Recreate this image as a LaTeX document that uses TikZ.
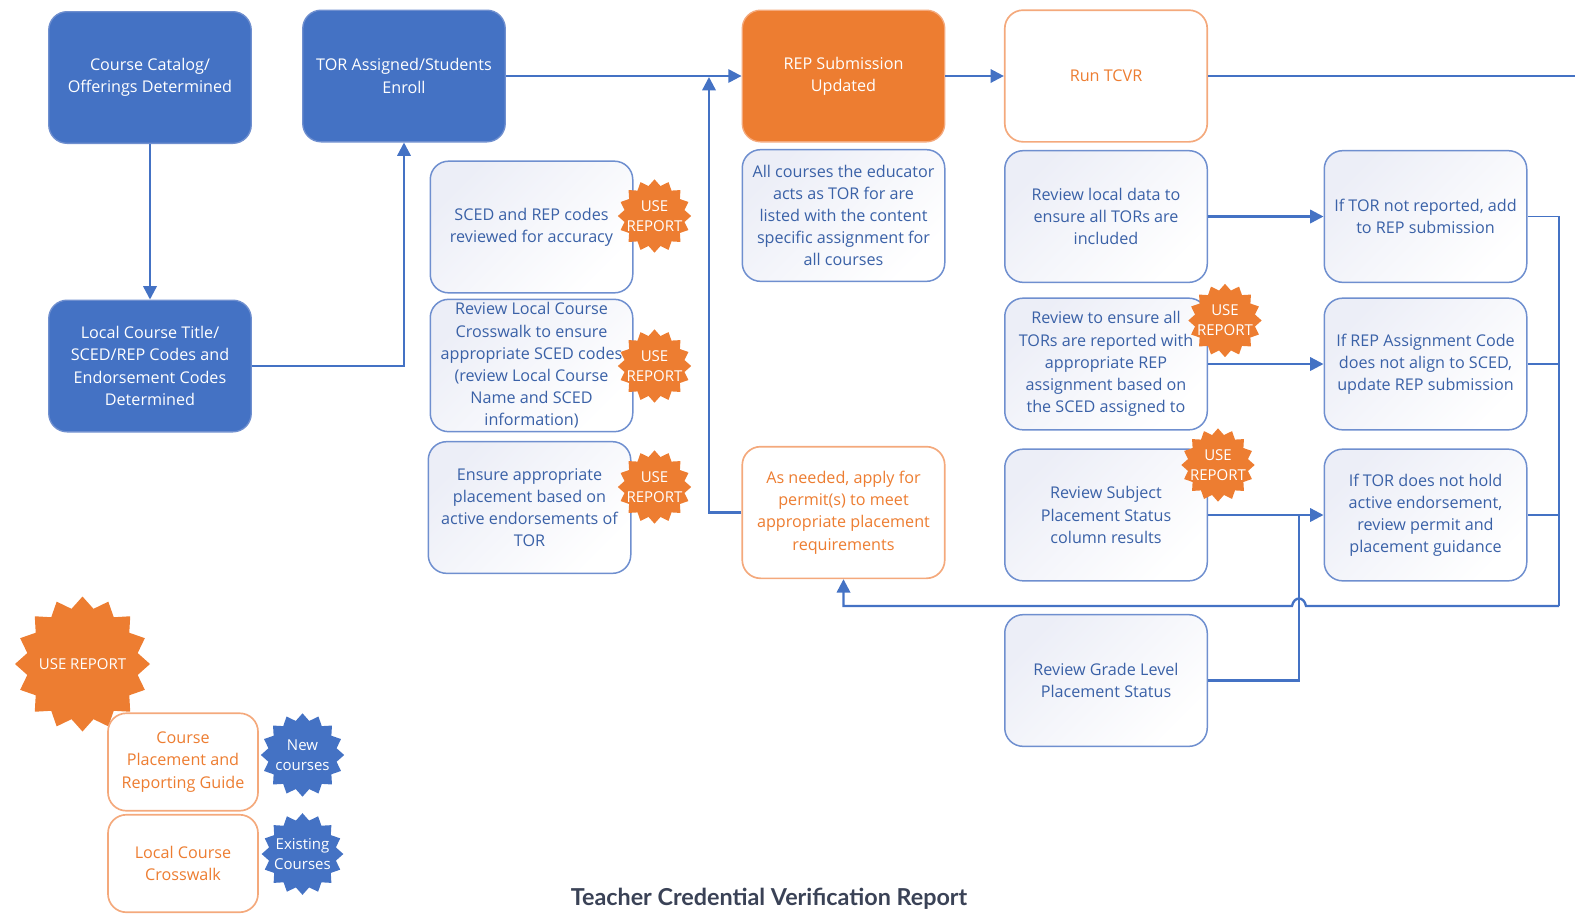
\documentclass[tikz,border=0pt]{standalone}
\usepackage{fontspec}
\setmainfont{Open Sans}
\newfontfamily\titlefont{Lato}
\usetikzlibrary{shapes.geometric, calc, arrows.meta}
\definecolor{RepBlue}{HTML}{4472C4}
\definecolor{RepOrange}{HTML}{ED7D31}
\definecolor{RepBorder}{HTML}{F4A97C}
\definecolor{RepShade}{HTML}{ECEEF7}
\definecolor{RepLine}{HTML}{6F8FCF}
\definecolor{RepTitle}{HTML}{3A4256}
\tikzstyle{box} = [rectangle, rounded corners=11pt, minimum width=121.5pt, minimum height=79pt, inner sep=2pt, align=center, font=\fontsize{9.7}{13.3}\selectfont]
\tikzstyle{solidblue} = [box, fill=RepBlue, draw=RepLine, line width=0.8pt, text=white]
\tikzstyle{solidorange} = [box, fill=RepOrange, draw=RepBorder, line width=0.8pt, text=white]
\tikzstyle{lightbox} = [box, draw=RepLine, line width=0.9pt, top color=RepShade, middle color=white, bottom color=white, shading angle=45, text=RepBlue!85!black]
\tikzstyle{orangebox} = [box, fill=white, draw=RepBorder, line width=1pt, text=RepOrange]
\tikzstyle{legendbox} = [orangebox, minimum width=90pt, minimum height=58.5pt]
\tikzstyle{burst} = [star, star points=16, star point ratio=1.2, inner sep=0pt, draw=none]
\tikzstyle{bursttext} = [align=center, text=white, inner sep=0pt, font=\fontsize{9}{12}\selectfont]
\tikzstyle{usereport} = [burst, fill=RepOrange, minimum size=44pt, label={[bursttext]center:USE\\REPORT}]
\tikzstyle{arrow} = [line width=1.4pt, RepBlue, -{Triangle[length=8pt,width=8pt]}]
\tikzstyle{line} = [line width=1.4pt, RepBlue]
\tikzstyle{thinline} = [line width=1.1pt, RepBlue]

\begin{document}
\begin{tikzpicture}[x=0.6pt, y=-0.6pt]
	\useasboundingbox (0,0) rectangle (1575,914);
	% top row and left column
	\node (Catalog) [solidblue] at (150,77.5) {Course Catalog/\\Offerings Determined};
	\node (Assigned) [solidblue] at (404,76) {TOR Assigned/Students\\Enroll};
	\node (LocalTitle) [solidblue] at (150,366) {Local Course Title/\\SCED/REP Codes and\\Endorsement Codes\\Determined};
	\node (Submission) [solidorange] at (843.5,76) {REP Submission\\Updated};
	\node (RunTCVR) [orangebox] at (1106,76) {Run TCVR};
	% review boxes
	\node (CodesReviewed) [lightbox] at (531.5,227) {SCED and REP codes\\reviewed for accuracy};
	\node (Crosswalk) [lightbox] at (531.5,365.5) {Review Local Course\\Crosswalk to ensure\\appropriate SCED codes\\(review Local Course\\Name and SCED\\information)};
	\node (Placement) [lightbox] at (529.5,507.5) {Ensure appropriate\\placement based on\\active endorsements of\\TOR};
	\node (AllCourses) [lightbox] at (843.5,215.5) {All courses the educator\\acts as TOR for are\\listed with the content\\specific assignment for\\all courses};
	\node (AsNeeded) [orangebox] at (843.5,512.5) {As needed, apply for\\permit(s) to meet\\appropriate placement\\requirements};
	\node (LocalData) [lightbox] at (1106,216.5) {Review local data to\\ensure all TORs are\\included};
	\node (EnsureTORs) [lightbox] at (1106,364) {Review to ensure all\\TORs are reported with\\appropriate REP\\assignment based on\\the SCED assigned to};
	\node (Subject) [lightbox] at (1106,515) {Review Subject\\Placement Status\\column results};
	\node (Grade) [lightbox] at (1106,680.5) {Review Grade Level\\Placement Status};
	\node (NotReported) [lightbox] at (1425.5,216.5) {If TOR not reported, add\\to REP submission};
	\node (NotAligned) [lightbox] at (1425.5,364) {If REP Assignment Code\\does not align to SCED,\\update REP submission};
	\node (NotHeld) [lightbox] at (1425.5,515) {If TOR does not hold\\active endorsement,\\review permit and\\placement guidance};
	% legend
	\node (BigReport) [burst, fill=RepOrange, minimum size=81pt, label={[bursttext]center:USE REPORT}] at (82.5,664) {};
	\node (GuideBox) [legendbox] at (183,762) {Course\\Placement and\\Reporting Guide};
	\node (WalkBox) [legendbox] at (183,863.5) {Local Course\\Crosswalk};
	\node (NewCourses) [burst, fill=RepBlue, minimum size=50pt, label={[bursttext]center:New\\courses}] at (302.5,755) {};
	\node (OldCourses) [burst, fill=RepBlue, minimum size=49pt, label={[bursttext]center:Existing\\Courses}] at (302.5,854) {};
	% report stars
	\node (ReportA) [usereport] at (654.5,216) {};
	\node (ReportB) [usereport] at (654.5,366) {};
	\node (ReportC) [usereport] at (654.5,487) {};
	\node (ReportD) [usereport] at (1225,320.5) {};
	\node (ReportE) [usereport] at (1218,465) {};
	\node (Title) [font=\titlefont\bfseries\fontsize{14}{16}\selectfont, text=RepTitle, inner sep=0pt] at (769,899) {Teacher Credential Verification Report};
	% free ends
	\coordinate (RightEdge) at (1575,76);
	\coordinate (UpTip) at (709,77);
	\coordinate (SubjectJoin) at (1299,515);
	\coordinate (BackCorner) at (1559,606);
	\coordinate (JumpRight) at (1306,606);
	\coordinate (JumpLeft) at (1292,606);
	% connectors
	\draw [arrow] (Catalog) -- (LocalTitle);
	\draw [arrow] (LocalTitle.east) -| (Assigned.south);
	\draw [arrow] (Assigned.east) -- (Submission.west);
	\draw [arrow] (AsNeeded.west) -| (UpTip);
	\draw [arrow] (Submission.east) -- (RunTCVR.west);
	\draw [line] (RunTCVR.east) -- (RightEdge);
	\draw [arrow] (LocalData.east) -- (NotReported.west);
	\draw [arrow] (EnsureTORs.east) -- (NotAligned.west);
	\draw [arrow] (Subject.east) -- (NotHeld.west);
	\draw [line] (Grade.east) -| (SubjectJoin);
	\draw [thinline] (NotReported.east) -| (BackCorner);
	\draw [thinline] (NotAligned.east) -| (BackCorner);
	\draw [thinline] (NotHeld.east) -| (BackCorner);
	\draw [arrow] (BackCorner) -- (JumpRight) .. controls (1304,596) and (1294,596) .. (JumpLeft) -| (AsNeeded.south);
\end{tikzpicture}
\end{document}
